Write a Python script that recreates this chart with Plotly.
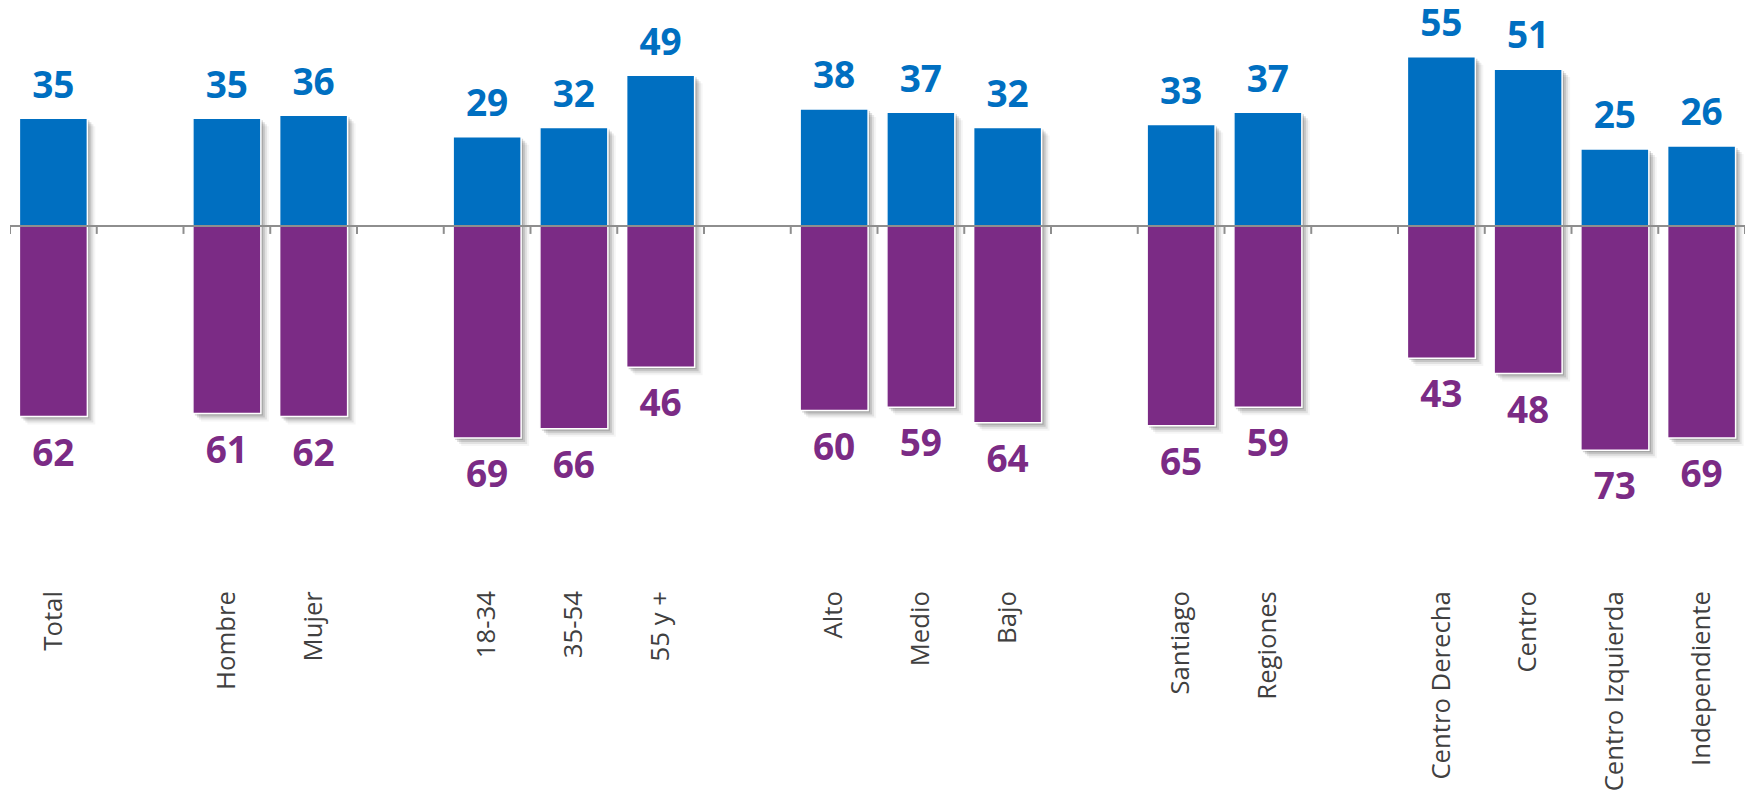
import plotly.graph_objects as go

# ---- data (None = empty spacer slot) ----
categories = ["Total", "", "Hombre", "Mujer", "", "18-34", "35-54", "55 y +", "",
              "Alto", "Medio", "Bajo", "", "Santiago", "Regiones", "",
              "Centro Derecha", "Centro", "Centro Izquierda", "Independiente"]
positive = [35, None, 35, 36, None, 29, 32, 49, None, 38, 37, 32, None, 33, 37, None, 55, 51, 25, 26]
negative = [62, None, 61, 62, None, 69, 66, 46, None, 60, 59, 64, None, 65, 59, None, 43, 48, 73, 69]

BLUE = "#006FC1"
PURPLE = "#7B2B85"
GRID = "#8E8E8E"

x = list(range(len(categories)))
neg_vals = [-v if v is not None else None for v in negative]

# layout geometry
W, H = 1750, 791
ml, mr, mt, mb = 10, 5, 0, 204
zero_px = 226.7
px_per_unit = 3.085
y_top = zero_px / px_per_unit
y_bot = -((H - mb) - zero_px) / px_per_unit
slot_px = (W - ml - mr) / len(categories)
bw = 68 / slot_px  # bar width in axis units

fig = go.Figure()

# soft drop shadows
for dpx, alpha in [(2, 0.16), (4, 0.12), (6, 0.08), (8, 0.04)]:
    dx = dpx / slot_px
    dy = dpx / px_per_unit
    for vals in (positive, neg_vals):
        fig.add_trace(go.Bar(
            x=x, y=vals, base=[-dy] * len(x),
            width=bw, offset=-bw / 2 + dx,
            marker=dict(color=f"rgba(0,0,0,{alpha})", line=dict(width=0)),
            hoverinfo="skip", showlegend=False))

fig.add_trace(go.Bar(x=x, y=positive, width=bw, offset=-bw / 2,
                     marker=dict(color=BLUE, line=dict(color="white", width=1.5)),
                     showlegend=False))
fig.add_trace(go.Bar(x=x, y=neg_vals, width=bw, offset=-bw / 2,
                     marker=dict(color=PURPLE, line=dict(color="white", width=1.5)),
                     showlegend=False))

# value labels placed beyond the bar ends
pos_gap = 30 / px_per_unit
neg_gap = 40 / px_per_unit
fig.add_trace(go.Scatter(
    x=x, y=[v + pos_gap if v is not None else None for v in positive],
    text=[str(v) if v is not None else "" for v in positive],
    mode="text", textposition="middle center",
    textfont=dict(family="Open Sans", size=37, color=BLUE, weight="bold"),
    cliponaxis=False, showlegend=False, hoverinfo="skip"))
fig.add_trace(go.Scatter(
    x=x, y=[v - neg_gap if v is not None else None for v in neg_vals],
    text=[str(v) if v is not None else "" for v in negative],
    mode="text", textposition="middle center",
    textfont=dict(family="Open Sans", size=37, color=PURPLE, weight="bold"),
    cliponaxis=False, showlegend=False, hoverinfo="skip"))

# zero line with tick marks at slot boundaries
shapes = [dict(type="line", xref="x", yref="y", x0=-0.5, x1=len(x) - 0.5, y0=0, y1=0,
               line=dict(color=GRID, width=2), layer="above")]
for i in range(len(x) + 1):
    shapes.append(dict(type="line", xref="x", yref="y", ysizemode="pixel", yanchor=0,
                       x0=i - 0.5, x1=i - 0.5, y0=0, y1=-8,
                       line=dict(color=GRID, width=2), layer="above"))

fig.update_layout(
    width=W, height=H,
    margin=dict(l=ml, r=mr, t=mt, b=mb),
    paper_bgcolor="white", plot_bgcolor="white",
    barmode="overlay",
    shapes=shapes,
    xaxis=dict(range=[-0.5, len(x) - 0.5], tickmode="array", tickvals=x, ticktext=categories,
               tickangle=-90, ticks="", showline=False, showgrid=False, zeroline=False,
               tickfont=dict(family="Open Sans", size=25.7, color="#404040")),
    yaxis=dict(range=[y_bot, y_top], visible=False, showgrid=False, zeroline=False),
)

fig.write_html("out.html",
               config={"displayModeBar": False},
               post_script="document.body.style.margin='0';document.body.style.overflow='hidden';")
